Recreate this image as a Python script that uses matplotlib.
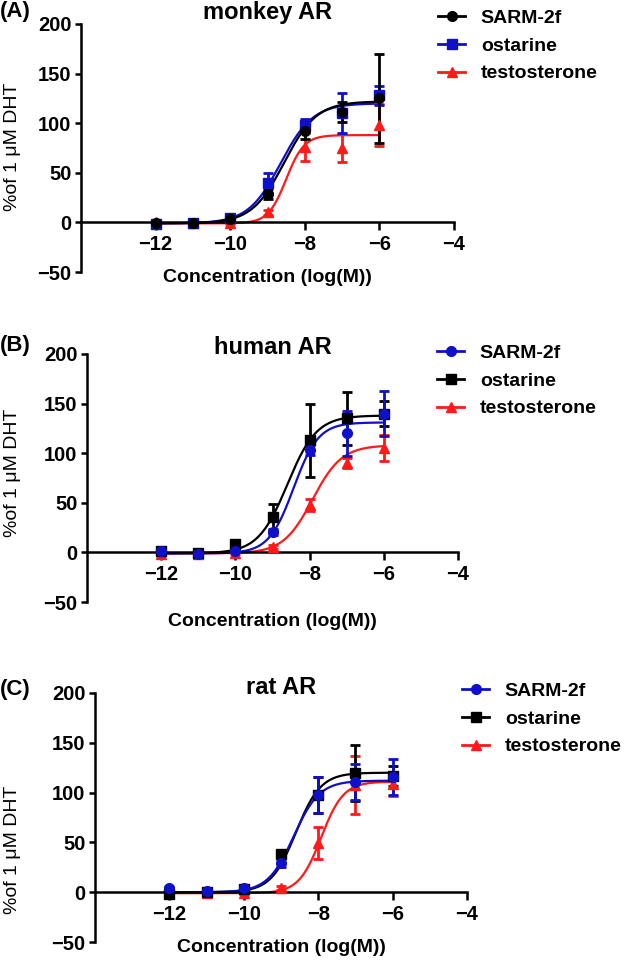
import numpy as np
import matplotlib
matplotlib.use("Agg")
import matplotlib.pyplot as plt
from matplotlib.lines import Line2D

plt.rcParams['font.family'] = ['Liberation Sans', 'DejaVu Sans']

# x values (log molar concentration)
log_conc = [-12, -11, -10, -9, -8, -7, -6]

# (A) monkey AR
monkey_sarm = [-1, -1, 3, 29, 92, 111, 125]
monkey_sarm_err = [1, 1, 2, 5, 8, 10, 45]
monkey_ost = [-2, -1, 4, 40, 98, 110, 128]
monkey_ost_err = [1, 1, 2, 10, 6, 20, 10]
monkey_test = [0, -1, -1, 10, 76, 75, 98]
monkey_test_err = [1, 1, 1, 3, 14, 14, 21]

# (B) human AR
human_sarm = [1, -2, 1, 21, 103, 120, 140]
human_sarm_err = [2, 1, 1, 3, 5, 23, 23]
human_ost = [1, -1, 8, 36, 113, 135, 140]
human_ost_err = [1, 1, 2, 13, 37, 27, 13]
human_test = [-2, -2, -1, 5, 48, 90, 105]
human_test_err = [1, 1, 1, 2, 6, 5, 13]

# (C) rat AR
rat_sarm = [4, 1, 4, 29, 98, 111, 116]
rat_sarm_err = [1, 1, 2, 4, 18, 18, 18]
rat_ost = [-2, 0, 3, 38, 98, 120, 117]
rat_ost_err = [1, 1, 2, 4, 18, 28, 10]
rat_test = [-1, -1, -1, 4, 49, 108, 109]
rat_test_err = [1, 1, 1, 2, 16, 29, 12]

# fitted dose-response parameters: bottom, top, logEC50, hill
monkey_fits = {"sarm": (-1, 122, -8.55, 1.0), "ost": (-1, 120, -8.65, 1.0), "test": (-1, 88, -8.5, 1.8)}
human_fits = {"sarm": (-1, 131, -8.43, 1.3), "ost": (-1, 138, -8.6, 1.1), "test": (-1, 108, -7.92, 1.1)}
rat_fits = {"sarm": (0, 112, -8.66, 1.25), "ost": (0, 120, -8.6, 1.3), "test": (-1, 111, -7.92, 1.45)}

BLUE = '#1010c8'
RED = '#ff1a1a'
BLACK = '#000000'


def dose_response(x, bottom, top, ec50, hill):
    return bottom + (top - bottom) / (1 + 10 ** ((ec50 - x) * hill))


fig = plt.figure(figsize=(6.26, 9.6), dpi=100)
W, H = 626.0, 960.0


def px_axes(left, top, right, bottom):
    return fig.add_axes([left / W, 1 - bottom / H, (right - left) / W, (bottom - top) / H])


panels = [
    dict(box=(81, 24, 454, 272), title="monkey AR", tag="(A)", tag_y=11, title_y=12,
         ylab_y=147, xlab_y=278, leg=(438, 9),
         series=[("test", monkey_test, monkey_test_err, RED, '^', "testosterone"),
                 ("ost", monkey_ost, monkey_ost_err, BLUE, 's', "ostarine"),
                 ("sarm", monkey_sarm, monkey_sarm_err, BLACK, 'o', "SARM-2f")],
         fits=monkey_fits),
    dict(box=(87, 354, 458, 602), title="human AR", tag="(B)", tag_y=346, title_y=347,
         ylab_y=473, xlab_y=621, leg=(437, 344),
         series=[("test", human_test, human_test_err, RED, '^', "testosterone"),
                 ("ost", human_ost, human_ost_err, BLACK, 's', "ostarine"),
                 ("sarm", human_sarm, human_sarm_err, BLUE, 'o', "SARM-2f")],
         fits=human_fits),
    dict(box=(95, 693, 467, 942), title="rat AR", tag="(C)", tag_y=690, title_y=688,
         ylab_y=850, xlab_y=947, leg=(462, 682),
         series=[("test", rat_test, rat_test_err, RED, '^', "testosterone"),
                 ("ost", rat_ost, rat_ost_err, BLACK, 's', "ostarine"),
                 ("sarm", rat_sarm, rat_sarm_err, BLUE, 'o', "SARM-2f")],
         fits=rat_fits),
]

xs = np.linspace(-12, -6, 200)
fs = 14

for p in panels:
    ax = px_axes(*p["box"])
    for key, vals, errs, col, mk, lab in p["series"]:
        ax.errorbar(log_conc, vals, yerr=errs, fmt=mk, color=col, ms=7,
                    elinewidth=2, capsize=3.5, capthick=2, zorder=3)
        ax.plot(xs, dose_response(xs, *p["fits"][key]), color=col, lw=1.6, zorder=2)

    ax.set_xlim(-14, -4)
    ax.set_ylim(-50, 200)
    ax.set_xticks([-12, -10, -8, -6, -4])
    ax.set_yticks([-50, 0, 50, 100, 150, 200])
    ax.set_xticklabels(["\u221212", "\u221210", "\u22128", "\u22126", "\u22124"])
    ax.set_yticklabels(["\u221250", "0", "50", "100", "150", "200"])
    ax.spines['top'].set_visible(False)
    ax.spines['right'].set_visible(False)
    ax.spines['bottom'].set_position(('data', 0))
    for s in ('left', 'bottom'):
        ax.spines[s].set_linewidth(1.8)
    ax.tick_params(axis='both', width=1.8, labelsize=14.5)
    ax.tick_params(axis='x', length=6, pad=3)
    ax.tick_params(axis='y', length=4, pad=3)
    for t in ax.get_xticklabels() + ax.get_yticklabels():
        t.set_fontweight('bold')
    ax.patch.set_visible(False)

    left, top, right, bottom = p["box"]
    cx = (left + right) / 2 / W
    fig.text(cx, 1 - p["xlab_y"] / H, "Concentration (log(M))",
             ha='center', va='center', fontsize=fs, fontweight='bold')
    fig.text(cx, 1 - p["title_y"] / H, p["title"], ha='center', va='center',
             fontsize=17, fontweight='bold')
    fig.text(0, 1 - p["tag_y"] / H, p["tag"], ha='left', va='center',
             fontsize=16, fontweight='bold')
    fig.text(13 / W, 1 - p["ylab_y"] / H, "%of 1 \u03bcM DHT", rotation=90, ha='center', va='center',
             fontsize=fs)

    handles = []
    labels = []
    for key, vals, errs, col, mk, lab in p["series"][::-1]:
        handles.append(Line2D([0], [0], color=col, marker=mk, ms=7, lw=2))
        labels.append(lab)
    lx, ly = p["leg"]
    leg = fig.legend(handles, labels, loc='upper left', bbox_to_anchor=(lx / W, 1 - ly / H),
                     frameon=False, fontsize=fs, handlelength=1.4, handletextpad=0.8,
                     labelspacing=0.53, borderpad=0, borderaxespad=0, numpoints=1)
    for t in leg.get_texts():
        t.set_fontweight('bold')

fig.savefig("out.png", dpi=100)
